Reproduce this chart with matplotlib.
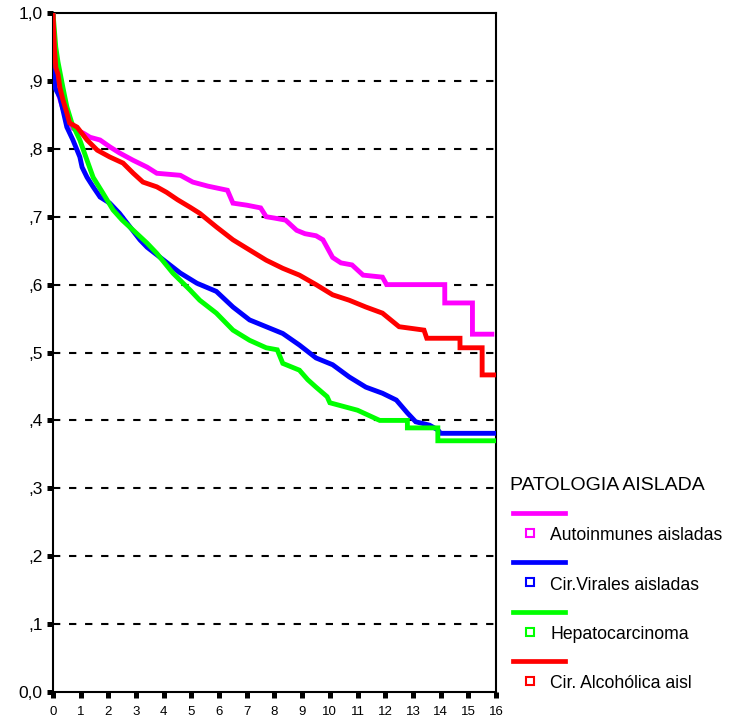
import matplotlib.pyplot as plt
from matplotlib.lines import Line2D

plt.rcParams['font.family'] = ['Liberation Sans', 'DejaVu Sans']

# Survival curves (years, cumulative survival), vertices
auto_t = [0, 0.03, 0.1, 0.2, 0.35, 0.5, 0.72, 1.1, 1.34, 1.7, 2.05, 2.4, 2.9, 3.4, 3.75,
          4.6, 5.05, 5.6, 6.3, 6.5, 7.0, 7.5, 7.7, 8.0, 8.4, 8.8, 9.1, 9.5, 9.75, 10.1,
          10.4, 10.8, 11.2, 11.9, 12.05, 14.15, 14.15, 15.15, 15.15, 15.85]
auto_s = [1.0, 0.95, 0.91, 0.88, 0.86, 0.845, 0.83, 0.823, 0.817, 0.813, 0.803, 0.794,
          0.783, 0.773, 0.764, 0.761, 0.751, 0.745, 0.739, 0.72, 0.717, 0.713, 0.70,
          0.698, 0.695, 0.68, 0.675, 0.672, 0.666, 0.64, 0.632, 0.629, 0.614, 0.611,
          0.60, 0.60, 0.573, 0.573, 0.527, 0.527]

viral_t = [0, 0.03, 0.07, 0.25, 0.36, 0.5, 0.72, 0.97, 1.05, 1.23, 1.45, 1.7, 2.05, 2.4,
           2.78, 3.14, 3.4, 4.0, 4.6, 5.2, 5.9, 6.5, 7.1, 7.7, 8.3, 8.9, 9.5, 10.1, 10.7,
           11.3, 11.9, 12.4, 12.8, 13.1, 13.6, 13.9, 14.0, 16.0]
viral_s = [1.0, 0.92, 0.89, 0.876, 0.857, 0.832, 0.813, 0.788, 0.773, 0.758, 0.744,
           0.729, 0.72, 0.705, 0.685, 0.666, 0.655, 0.636, 0.617, 0.602, 0.59, 0.567,
           0.548, 0.538, 0.528, 0.511, 0.492, 0.482, 0.464, 0.449, 0.44, 0.43, 0.411,
           0.398, 0.393, 0.386, 0.381, 0.381]

hcc_t = [0, 0.1, 0.18, 0.36, 0.5, 0.68, 0.97, 1.23, 1.45, 1.8, 2.17, 2.5, 2.9, 3.4,
         3.75, 4.33, 4.95, 5.3, 5.9, 6.5, 7.1, 7.7, 8.1, 8.3, 8.9, 9.2, 9.5, 9.9, 10.0,
         11.0, 11.8, 12.8, 12.8, 13.9, 13.9, 16.0]
hcc_s = [1.0, 0.95, 0.928, 0.89, 0.862, 0.838, 0.813, 0.783, 0.758, 0.735, 0.71, 0.695,
         0.68, 0.661, 0.646, 0.617, 0.592, 0.577, 0.558, 0.533, 0.518, 0.507, 0.504,
         0.484, 0.474, 0.46, 0.449, 0.435, 0.426, 0.415, 0.40, 0.40, 0.389, 0.389,
         0.37, 0.37]

alco_t = [0, 0.05, 0.1, 0.18, 0.25, 0.36, 0.5, 0.6, 0.87, 1.23, 1.6, 2.05, 2.53, 2.9,
          3.25, 3.75, 4.1, 4.5, 4.95, 5.3, 5.9, 6.5, 7.1, 7.7, 8.3, 8.9, 9.5, 10.1, 10.7,
          11.3, 11.9, 12.5, 13.4, 13.5, 14.7, 14.7, 15.5, 15.5, 16.0]
alco_s = [1.0, 0.95, 0.92, 0.91, 0.89, 0.872, 0.853, 0.838, 0.832, 0.813, 0.798, 0.788,
          0.779, 0.764, 0.751, 0.744, 0.736, 0.725, 0.714, 0.705, 0.685, 0.666, 0.651,
          0.636, 0.624, 0.614, 0.60, 0.585, 0.577, 0.567, 0.558, 0.538, 0.533, 0.521,
          0.521, 0.507, 0.507, 0.467, 0.467]

series = [
    ('Autoinmunes aisladas', auto_t, auto_s, '#ff00ff'),
    ('Cir.Virales aisladas', viral_t, viral_s, '#0000ff'),
    ('Hepatocarcinoma', hcc_t, hcc_s, '#00ff00'),
    ('Cir. Alcohólica aisl', alco_t, alco_s, '#ff0000'),
]

y_ticks = [0.0, 0.1, 0.2, 0.3, 0.4, 0.5, 0.6, 0.7, 0.8, 0.9, 1.0]
y_labels = ['0,0', ',1', ',2', ',3', ',4', ',5', ',6', ',7', ',8', ',9', '1,0']
x_ticks = list(range(0, 17))

fig = plt.figure(figsize=(7.31, 7.24), dpi=100)
ax = fig.add_axes([0.0725, 0.0442, 0.606, 0.9378])

for y in y_ticks[1:-1]:
    ax.axhline(y, color='black', lw=1.5, linestyle=(0, (3.5, 4.2)), zorder=1)

for name, t, s, c in series:
    ax.plot(t, s, color=c, lw=3.5, zorder=3, solid_joinstyle='miter')

ax.set_xlim(0, 16)
ax.set_ylim(0, 1.0)
ax.set_yticks(y_ticks)
ax.set_yticklabels(y_labels, fontsize=12.5)
ax.set_xticks(x_ticks)
ax.set_xticklabels([str(v) for v in x_ticks], fontsize=9.5)
ax.tick_params(axis='y', direction='out', length=4.3, width=3.6, pad=3)
ax.tick_params(axis='x', direction='out', length=4, width=3.6, pad=6)
for sp in ax.spines.values():
    sp.set_linewidth(1.5)

# Legend drawn by hand (line, then marker + label), SPSS style
fig.text(510 / 731, 1 - 486 / 724, 'PATOLOGIA AISLADA', fontsize=14,
         va='center', ha='left')
for i, (name, t, s, c) in enumerate(series):
    y_line = 513 + i * 49.3
    y_lab = y_line + 23
    fig.add_artist(Line2D([513 / 731, 565 / 731], [1 - y_line / 724] * 2,
                          color=c, lw=3.4, transform=fig.transFigure))
    fig.add_artist(Line2D([530 / 731], [1 - (y_lab - 3) / 724], marker='s',
                          markersize=5.5, markerfacecolor='white',
                          markeredgecolor=c, markeredgewidth=1.5, lw=0,
                          transform=fig.transFigure))
    fig.text(550 / 731, 1 - y_lab / 724, name, fontsize=12.7, va='center', ha='left')

fig.savefig('out.png', dpi=100)
